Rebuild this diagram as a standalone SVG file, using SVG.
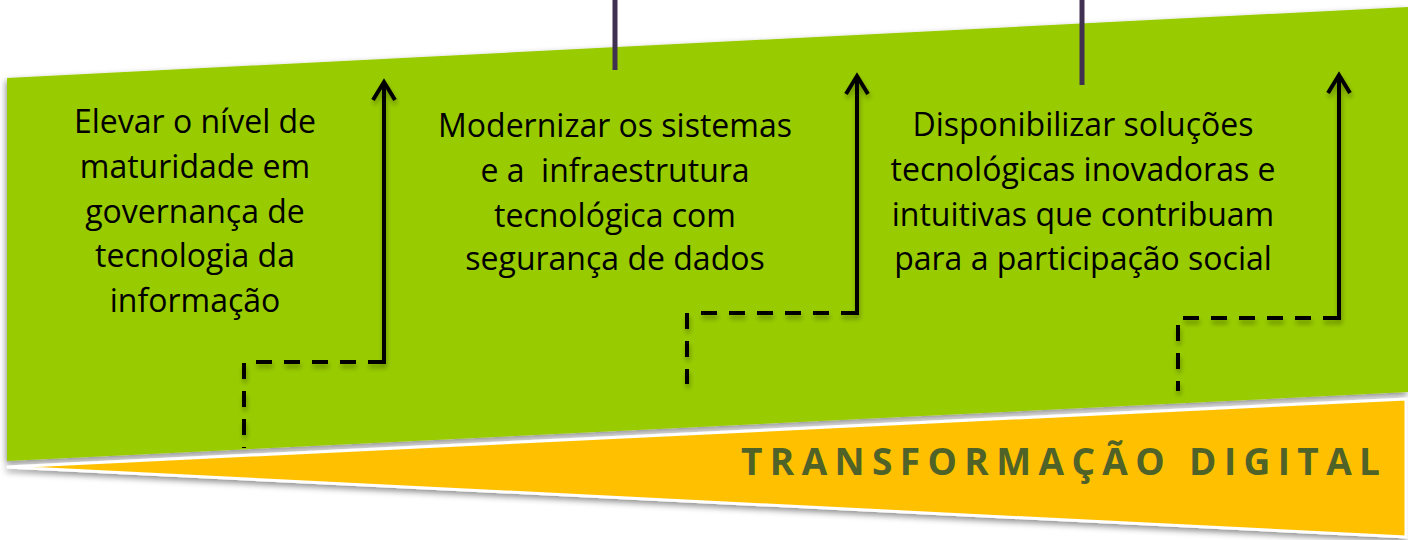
<svg xmlns="http://www.w3.org/2000/svg" width="1408" height="540" viewBox="0 0 1408 540">
  <style>
    .body { font-family: "Open Sans", "Noto Sans", "Liberation Sans", sans-serif; font-size: 32px; fill: #000000; text-anchor: middle; }
    .banner { font-family: "Open Sans", "Noto Sans", "Liberation Sans", sans-serif; font-size: 37px; font-weight: bold; fill: #4f6228; }
    .dash { fill: none; stroke: #000000; stroke-width: 4; stroke-dasharray: 16 12; }
    .solid { fill: none; stroke: #000000; stroke-width: 4; }
    .pole { stroke: #403151; stroke-width: 5; }
  </style>
  <defs>
    <filter id="shadow" x="-5%" y="-10%" width="110%" height="130%">
      <feDropShadow dx="-1" dy="3" stdDeviation="3" flood-color="#000000" flood-opacity="0.45"/>
    </filter>
    <filter id="lineShadow" x="-20%" y="-20%" width="140%" height="140%">
      <feDropShadow dx="1" dy="4" stdDeviation="2.5" flood-color="#000000" flood-opacity="0.3"/>
    </filter>
    <marker id="chevron" viewBox="-24 -14 30 28" refX="0" refY="0" markerWidth="30" markerHeight="28" markerUnits="userSpaceOnUse" orient="auto">
      <path d="M-18,-11 L0,0 L-18,11" fill="none" stroke="#000000" stroke-width="4"/>
    </marker>
  </defs>

  <g id="background">
    <polygon points="7,78 1408,7 1408,392 7,461" fill="#99cc00" filter="url(#shadow)"/>
    <polygon points="7,467 1406,399 1406,537" fill="#ffc000" stroke="#ffffff" stroke-width="3" stroke-linejoin="miter" filter="url(#shadow)"/>
    <line class="pole" x1="615" y1="0" x2="615" y2="70"/>
    <line class="pole" x1="1082" y1="0" x2="1082" y2="85"/>
  </g>

  <g id="connectors" filter="url(#lineShadow)">
    <path class="dash" d="M244,363 V448" stroke-dasharray="15 13"/>
    <path class="dash" d="M384,362 H256"/>
    <path class="solid" d="M384,364 V82" marker-end="url(#chevron)"/>

    <path class="dash" d="M687,313 V384" stroke-dasharray="15 13"/>
    <path class="dash" d="M857,313 H700"/>
    <path class="solid" d="M857,315 V76" marker-end="url(#chevron)"/>

    <path class="dash" d="M1178,325 V391" stroke-dasharray="15 13"/>
    <path class="dash" d="M1339,318 H1183"/>
    <path class="solid" d="M1339,320 V75" marker-end="url(#chevron)"/>
  </g>

  <g id="node-governanca">
    <text class="body" x="195" y="133">Elevar o nível de</text>
    <text class="body" x="195" y="178">maturidade em</text>
    <text class="body" x="195" y="223">governança de</text>
    <text class="body" x="195" y="267">tecnologia da</text>
    <text class="body" x="195" y="312">informação</text>
  </g>

  <g id="node-infraestrutura">
    <text class="body" x="615" y="137">Modernizar os sistemas</text>
    <text class="body" x="615" y="182" xml:space="preserve">e a  infraestrutura</text>
    <text class="body" x="615" y="227">tecnológica com</text>
    <text class="body" x="615" y="270">segurança de dados</text>
  </g>

  <g id="node-solucoes">
    <text class="body" x="1083" y="136">Disponibilizar soluções</text>
    <text class="body" x="1083" y="181">tecnológicas inovadoras e</text>
    <text class="body" x="1083" y="226">intuitivas que contribuam</text>
    <text class="body" x="1083" y="270">para a participação social</text>
  </g>

  <g id="node-transformacao">
    <text class="banner" x="741" y="475" textLength="639" lengthAdjust="spacing">TRANSFORMAÇÃO DIGITAL</text>
  </g>
</svg>
